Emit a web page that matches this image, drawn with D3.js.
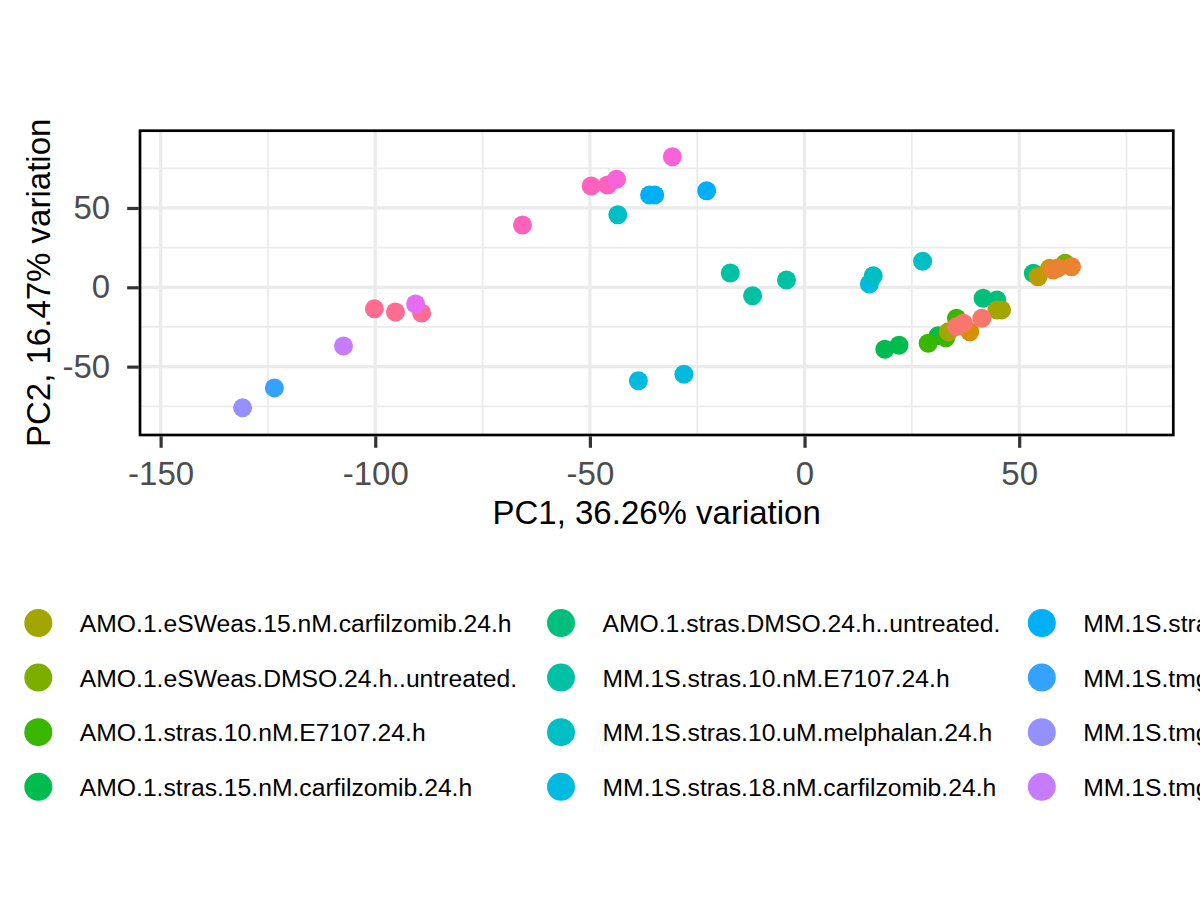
<!DOCTYPE html>
<html>
<head>
<meta charset="utf-8">
<script src="https://cdn.jsdelivr.net/npm/d3@7"></script>
<style>
  body { margin: 0; background: #fff; }
  svg { display: block; font-family: "Liberation Sans", Arial, sans-serif; }
</style>
</head>
<body>
<svg id="chart"></svg>
<script>
// groups, in legend order (column by column, 4 rows)
const groups = [
    "AMO.1.eSWeas.10.nM.E7107.24.h",
    "AMO.1.eSWeas.10.uM.melphalan.24.h",
    "AMO.1.eSWeas.100.nM.bortezomib.24.h",
    "AMO.1.eSWeas.12.nM.carfilzomib.24.h",
    "AMO.1.eSWeas.15.nM.carfilzomib.24.h",
    "AMO.1.eSWeas.DMSO.24.h..untreated.",
    "AMO.1.stras.10.nM.E7107.24.h",
    "AMO.1.stras.15.nM.carfilzomib.24.h",
    "AMO.1.stras.DMSO.24.h..untreated.",
    "MM.1S.stras.10.nM.E7107.24.h",
    "MM.1S.stras.10.uM.melphalan.24.h",
    "MM.1S.stras.18.nM.carfilzomib.24.h",
    "MM.1S.stras.DMSO.24.h..untreated.",
    "MM.1S.tmgh.10.nM.E7107.24.h",
    "MM.1S.tmgh.10.uM.melphalan.24.h",
    "MM.1S.tmgh.18.nM.carfilzomib.24.h",
    "MM.1S.tmgh.DMSO.24.h..untreated.",
    "MM.1S.tmgk.10.nM.E7107.24.h",
    "MM.1S.tmgk.18.nM.carfilzomib.24.h",
    "MM.1S.tmgk.DMSO.24.h..untreated."
];
const groupColours = [
    "#F8766D", "#EA8331", "#D89000", "#C09B00",
    "#A3A500", "#7CAE00", "#39B600", "#00BB4E",
    "#00BF7D", "#00C1A3", "#00BFC4", "#00BAE0",
    "#00B0F6", "#35A2FF", "#9590FF", "#C77CFF",
    "#E76BF3", "#FA62DB", "#FF62BC", "#FF6C91"
];

// samples: PC1, PC2 and group index
const pc1 = [
    35.4, 37.0, 41.3,
    57.9, 59.0, 62.2,
    38.5,
    54.4, 57.1,
    33.5, 44.8, 45.9,
    60.7,
    28.8, 32.9, 35.4,
    18.7, 22.0, 31.1,
    41.6, 44.8, 53.3,
    -17.3, -12.1, -4.2,
    -43.5, 16.0, 27.5,
    -38.7, -28.1, 15.1,
    -36.1, -34.9, -22.8,
    -123.5,
    -130.9,
    -107.4,
    -90.6,
    -43.8, -30.8,
    -65.7, -49.7, -45.9,
    -100.2, -95.3, -89.2
];
const pc2 = [
    -24.8, -22.7, -19.5,
    10.9, 12.2, 13.0,
    -28.0,
    6.7, 12.0,
    -28.0, -14.3, -14.3,
    15.1,
    -35.3, -31.8, -19.5,
    -39.1, -36.5, -30.5,
    -6.9, -8.0, 8.8,
    9.0, -5.3, 4.6,
    45.7, 7.3, 16.4,
    -58.9, -54.8, 2.1,
    58.2, 58.2, 60.9,
    -63.4,
    -76.0,
    -37.0,
    -10.5,
    68.1, 82.3,
    39.3, 63.8, 64.5,
    -13.6, -15.6, -16.2
];
const sampleGroup = [
    0, 0, 0,
    1, 1, 1,
    2,
    3, 3,
    4, 4, 4,
    5,
    6, 6, 6,
    7, 7, 7,
    8, 8, 8,
    9, 9, 9,
    10, 10, 10,
    11, 11, 11,
    12, 12, 12,
    13,
    14,
    15,
    16,
    17, 17,
    18, 18, 18,
    19, 19, 19
];

const xTicks = [-150, -100, -50, 0, 50];
const xMinor = [-125, -75, -25, 25, 75];
const yTicks = [-50, 0, 50];
const yMinor = [-75, -25, 25, 75];

const xTitle = "PC1, 36.26% variation";
const yTitle = "PC2, 16.47% variation";

const width = 1200;
const height = 900;
const panel = { left: 140, right: 1173.3, top: 130.7, bottom: 435 };

const svg = d3.select("#chart")
    .attr("width", width)
    .attr("height", height);

svg.append("rect")
    .attr("width", width)
    .attr("height", height)
    .attr("fill", "#fff");

const x = d3.scaleLinear()
    .domain([-154.8, 85.9])
    .range([panel.left, panel.right]);

const y = d3.scaleLinear()
    .domain([-93.1, 98.7])
    .range([panel.bottom, panel.top]);

// grid
const grid = svg.append("g");

grid.selectAll("line.xminor")
    .data(xMinor)
    .enter().append("line")
    .attr("x1", d => x(d)).attr("x2", d => x(d))
    .attr("y1", panel.top).attr("y2", panel.bottom)
    .attr("stroke", "#EBEBEB")
    .attr("stroke-width", 1.7);

grid.selectAll("line.yminor")
    .data(yMinor)
    .enter().append("line")
    .attr("x1", panel.left).attr("x2", panel.right)
    .attr("y1", d => y(d)).attr("y2", d => y(d))
    .attr("stroke", "#EBEBEB")
    .attr("stroke-width", 1.7);

grid.selectAll("line.xmajor")
    .data(xTicks)
    .enter().append("line")
    .attr("x1", d => x(d)).attr("x2", d => x(d))
    .attr("y1", panel.top).attr("y2", panel.bottom)
    .attr("stroke", "#EBEBEB")
    .attr("stroke-width", 3.3);

grid.selectAll("line.ymajor")
    .data(yTicks)
    .enter().append("line")
    .attr("x1", panel.left).attr("x2", panel.right)
    .attr("y1", d => y(d)).attr("y2", d => y(d))
    .attr("stroke", "#EBEBEB")
    .attr("stroke-width", 3.3);

// points, drawn last group first
const samples = pc1.map((v, i) => ({ pc1: v, pc2: pc2[i], group: sampleGroup[i] }))
    .sort((a, b) => b.group - a.group);

svg.append("g")
    .selectAll("circle")
    .data(samples)
    .enter().append("circle")
    .attr("cx", d => x(d.pc1))
    .attr("cy", d => y(d.pc2))
    .attr("r", 9.5)
    .attr("fill", d => groupColours[d.group]);

// panel border
svg.append("rect")
    .attr("x", panel.left)
    .attr("y", panel.top)
    .attr("width", panel.right - panel.left)
    .attr("height", panel.bottom - panel.top)
    .attr("fill", "none")
    .attr("stroke", "#000")
    .attr("stroke-width", 2.7);

// axes (plain hyphen for negatives, like R)
const plain = d => String(d);

const xAxis = svg.append("g")
    .attr("transform", `translate(0,${panel.bottom + 1.3})`)
    .call(d3.axisBottom(x).tickValues(xTicks).tickFormat(plain)
        .tickSize(11.5).tickPadding(14).tickSizeOuter(0));

const yAxis = svg.append("g")
    .attr("transform", `translate(${panel.left - 1.3},0)`)
    .call(d3.axisLeft(y).tickValues(yTicks).tickFormat(plain)
        .tickSize(11.5).tickPadding(17).tickSizeOuter(0));

[xAxis, yAxis].forEach(a => {
    a.select(".domain").remove();
    a.selectAll(".tick line").attr("stroke", "#333333").attr("stroke-width", 3.2);
    a.selectAll(".tick text")
        .attr("fill", "#4D4D4D")
        .style("font-size", "33px")
        .style("font-family", "'Liberation Sans', Arial, sans-serif");
});

// axis titles
svg.append("text")
    .attr("x", (panel.left + panel.right) / 2)
    .attr("y", 524)
    .attr("text-anchor", "middle")
    .attr("font-size", 33)
    .attr("fill", "#000")
    .text(xTitle);

svg.append("text")
    .attr("transform", `translate(50,${(panel.top + panel.bottom) / 2}) rotate(-90)`)
    .attr("text-anchor", "middle")
    .attr("font-size", 33)
    .attr("fill", "#000")
    .text(yTitle);

// legend: 5 columns x 4 rows, wider than the page, so the outer columns fall off it
const legendRowY = d3.scaleLinear().domain([0, 3]).range([623, 786.8]);
const keyToText = 41.5;
const colGap = 42;

const legend = svg.append("g");

const items = legend.selectAll("g")
    .data(groups)
    .enter().append("g");

items.append("circle")
    .attr("r", 14)
    .attr("fill", (d, i) => groupColours[i]);

items.append("text")
    .attr("x", keyToText)
    .attr("dy", "0.36em")
    .attr("font-size", 24.7)
    .attr("fill", "#000")
    .text(d => d);

// column widths from the widest label in each column, anchored on the second column
const colWidth = d3.range(5).map(c => keyToText + colGap +
    d3.max(items.filter((d, i) => Math.floor(i / 4) === c).select("text").nodes(),
        n => n.getComputedTextLength()));
const legendColX = [];
legendColX[1] = 38.3;
legendColX[0] = legendColX[1] - colWidth[0];
legendColX[2] = 561;
legendColX[3] = 1041.8;
legendColX[4] = legendColX[3] + colWidth[3];

items.attr("transform", (d, i) => `translate(${legendColX[Math.floor(i / 4)]},${legendRowY(i % 4)})`);
</script>
</body>
</html>
